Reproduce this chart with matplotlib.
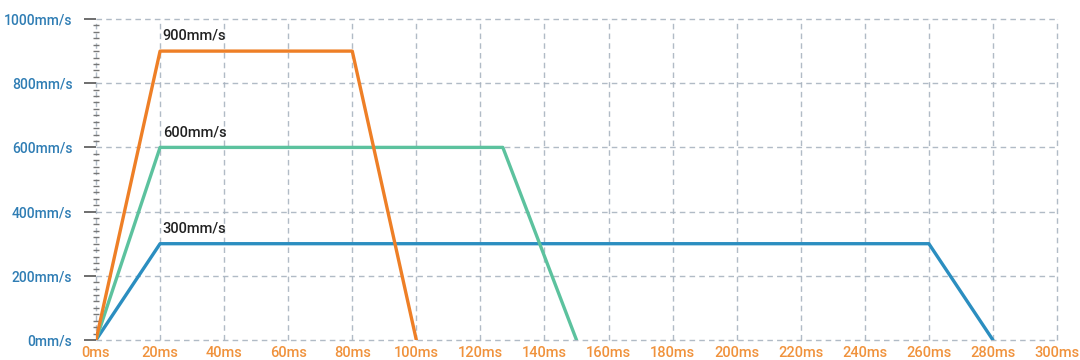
import matplotlib
matplotlib.use("Agg")
import matplotlib.pyplot as plt
from matplotlib.ticker import MultipleLocator, FuncFormatter

# Data
time_900 = [0, 20, 80, 100]
speed_900 = [0, 900, 900, 0]
time_600 = [0, 20, 127, 150]
speed_600 = [0, 600, 600, 0]
time_300 = [0, 20, 260, 280]
speed_300 = [0, 300, 300, 0]
labels = ["900mm/s", "600mm/s", "300mm/s"]
label_values = [900, 600, 300]
x_ticks = list(range(0, 301, 20))
y_ticks = list(range(0, 1001, 200))

c_orange = "#EE7F26"
c_green = "#5CC29E"
c_blue = "#2B8EC0"
c_ylab = "#2F7DB4"
c_xlab = "#F0923C"
grid_c = "#A9B4C0"

plt.rcParams['font.family'] = ['Roboto', 'DejaVu Sans']

fig = plt.figure(figsize=(10.8, 3.6), dpi=100)
ax = fig.add_axes([96/1080, 20/360, (1057-96)/1080, (340-19)/360])

ax.set_xlim(0, 300)
ax.set_ylim(0, 1000)

for sp in ax.spines.values():
    sp.set_visible(False)

ax.set_xticks(x_ticks)
ax.set_yticks(y_ticks)
ax.yaxis.set_minor_locator(MultipleLocator(20))
ax.xaxis.set_major_formatter(FuncFormatter(lambda v, p: f"{int(v)}ms"))
ax.yaxis.set_major_formatter(FuncFormatter(lambda v, p: f"{int(v)}mm/s"))

ax.grid(True, which='major', color=grid_c, linestyle=(0, (4, 3)), linewidth=1.0, alpha=0.9)
for gl in ax.get_xgridlines() + ax.get_ygridlines():
    gl.set_clip_on(False)
ax.set_axisbelow(True)

ax.tick_params(axis='x', length=0, pad=4, labelsize=10.5, labelcolor=c_xlab)
ax.tick_params(axis='y', which='major', length=9, width=1.2, color='#555555',
               pad=8, labelsize=10, labelcolor=c_ylab)
ax.tick_params(axis='y', which='minor', length=5, width=1.0, color='#777777',
               direction='inout')
for t in ax.get_xticklabels() + ax.get_yticklabels():
    t.set_fontweight('medium')

lw = 2.4
ax.plot(time_300, speed_300, color=c_blue, lw=lw, solid_joinstyle='round', solid_capstyle='round', zorder=3)
ax.plot(time_600, speed_600, color=c_green, lw=lw, solid_joinstyle='round', solid_capstyle='round', zorder=4)
ax.plot(time_900, speed_900, color=c_orange, lw=lw, solid_joinstyle='round', solid_capstyle='round', zorder=5)

for lab, val in zip(labels, label_values):
    ax.annotate(lab, xy=(20, val), xytext=(2, 6), textcoords='offset points',
                fontsize=10.5, fontweight='medium', color='#222222', ha='left', va='bottom')

fig.savefig("out.png", dpi=100)
